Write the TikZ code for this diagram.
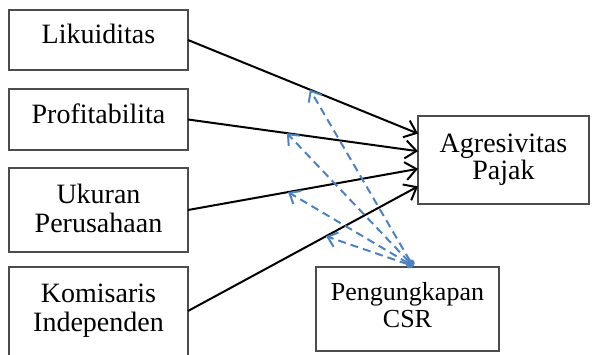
\documentclass[tikz,border=0pt]{standalone}
\usepackage{fontspec}
\setmainfont{Liberation Serif}
\usetikzlibrary{arrows.meta,calc}
\begin{document}
\begin{tikzpicture}[x=1pt,y=-1pt,
		var/.style={draw=black!70, line width=1.3pt, outer sep=0pt, minimum width=179pt,
			align=center, font=\fontsize{28}{29}\selectfont},
		path/.style={line width=2pt, -{Straight Barb[length=11pt,width=18pt]}},
		mod/.style={draw={rgb,255:red,79;green,129;blue,189}, line width=2pt,
			dash pattern=on 8pt off 5pt,
			{Circle[length=7pt]}-{Straight Barb[length=9pt,width=15pt]}}]
		\useasboundingbox (0,0) rectangle (593,355);
		\node[var, minimum height=60pt, text depth=12pt] (lik) at (98.5,40) {Likuiditas};
		\node[var, minimum height=61pt, text depth=12pt] (pro) at (98.5,119.5) {Profitabilita};
		\node[var, minimum height=84pt, text depth=4pt] (uku) at (98.5,210) {Ukuran\\Perusahaan};
		\node[var, draw=none, minimum height=88pt] (kom) at (98.5,311) {Komisaris\\Independen};
		\draw[draw=black!70, line width=1.3pt] ([yshift=-12pt]kom.south west) |- (kom.north east)
			-- ([yshift=-12pt]kom.south east);
		\node[var, minimum width=171pt, minimum height=88pt,
			font=\fontsize{28}{27}\selectfont] (agr) at (503.5,160) {Agresivitas\\Pajak};
		\node[var, minimum width=183pt, minimum height=84pt, text depth=9pt,
			font=\fontsize{26}{27}\selectfont] (csr) at (407.5,309) {Pengungkapan\\CSR};
		\coordinate (a1) at ($(agr.north west)!.2!(agr.south west)$);
		\coordinate (a2) at ($(agr.north west)!.4!(agr.south west)$);
		\coordinate (a3) at ($(agr.north west)!.6!(agr.south west)$);
		\coordinate (a4) at ($(agr.north west)!.8!(agr.south west)$);
		\coordinate (src) at ([xshift=5.5pt,yshift=1pt]csr.north);
		\draw[path] (lik.east) -- (a1) coordinate[pos=.53] (m1);
		\draw[path] (pro.east) -- (a2) coordinate[pos=.43] (m2);
		\draw[path] (uku.east) -- (a3) coordinate[pos=.435] (m3);
		\draw[path] (kom.east) -- (a4) coordinate[pos=.6] (m4);
		\foreach \m in {m1,m2,m3,m4}
			\draw[mod] (src) -- (\m);
	\end{tikzpicture}
\end{document}
